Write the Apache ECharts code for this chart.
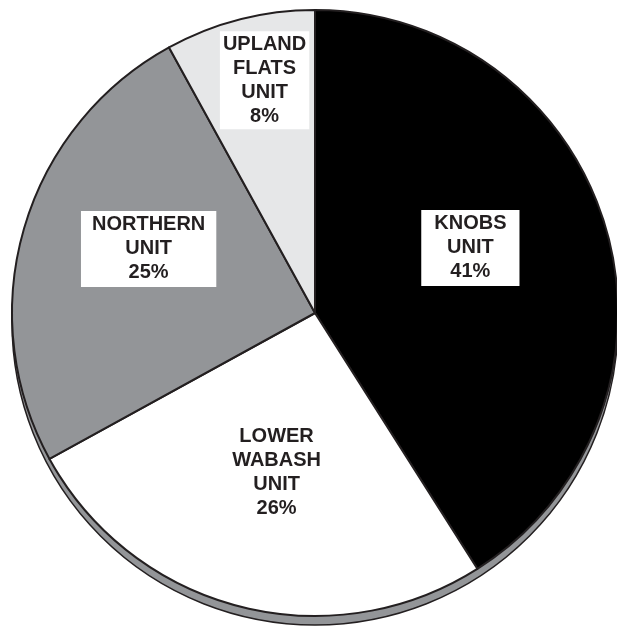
<!DOCTYPE html>
<html>
<head>
<meta charset="utf-8">
<script src="https://cdn.jsdelivr.net/npm/echarts@6/dist/echarts.min.js"></script>
<style>
  html, body { margin: 0; padding: 0; background: #fff; }
</style>
</head>
<body>
<div id="chart" style="width: 617px; height: 629px"></div>
<script>
// data
var unitNames = ["KNOBS\nUNIT", "LOWER\nWABASH\nUNIT", "NORTHERN\nUNIT", "UPLAND\nFLATS\nUNIT"];
var unitShares = [41, 26, 25, 8];
var unitColors = ["#000000", "#ffffff", "#939598", "#e6e7e8"];

// label nudges from the default "inside" spot (px)
var labelShift = [[7, -22], [0, 10], [-18, -21], [-12, -83]];
var labelPad = [[2, 13], [0, 0], [2, 11], [1, 3]];

var ink = "#231f20";

var chart = echarts.init(document.getElementById("chart"));

var sliceData = unitNames.map(function (name, i) {
  return {
    name: name,
    value: unitShares[i],
    itemStyle: { color: unitColors[i] },
    label: {
      backgroundColor: i === 1 ? "transparent" : "#ffffff",
      padding: labelPad[i],
    },
  };
});

chart.setOption({
  animation: false,
  series: [
    {
      // the thin grey "side" of the disc, peeking out at the bottom
      type: "pie",
      silent: true,
      center: [315, 322],
      radius: 303,
      label: { show: false },
      labelLine: { show: false },
      itemStyle: { color: "#939598", borderColor: ink, borderWidth: 1.5 },
      data: [{ value: 1 }],
      z: 1,
    },
    {
      type: "pie",
      center: [315, 313],
      radius: 303,
      startAngle: 90,
      clockwise: true,
      silent: true,
      z: 2,
      itemStyle: { borderColor: ink, borderWidth: 2 },
      label: {
        show: true,
        position: "inside",
        formatter: function (p) {
          return p.name + "\n" + p.value + "%";
        },
        fontFamily: "Liberation Sans, Arial, sans-serif",
        fontWeight: "bold",
        fontSize: 20,
        lineHeight: 24,
        color: ink,
        align: "center",
      },
      labelLine: { show: false },
      labelLayout: function (p) {
        var s = labelShift[p.dataIndex];
        return { dx: s[0], dy: s[1] };
      },
      data: sliceData,
    },
  ],
});
</script>
</body>
</html>
